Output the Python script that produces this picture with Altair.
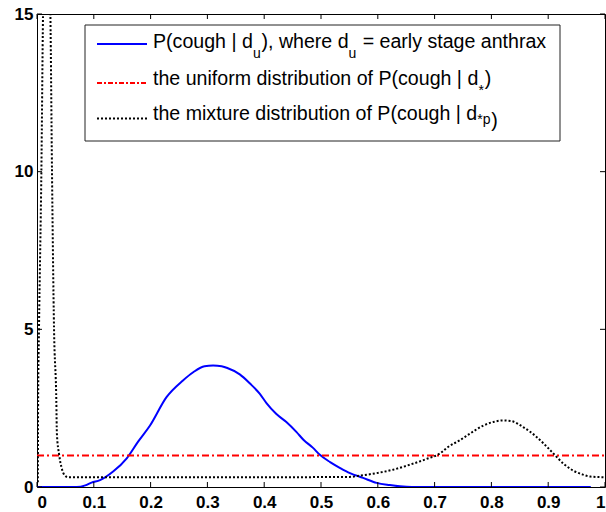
import altair as alt
import pandas as pd

# ---------------- data ----------------
blue_x = [0.0, 0.07, 0.085, 0.096, 0.111, 0.134, 0.158, 0.178, 0.199, 0.228, 0.257, 0.275,
          0.295, 0.31, 0.325, 0.334, 0.357, 0.375, 0.392, 0.404, 0.421, 0.439, 0.457, 0.469,
          0.486, 0.498, 0.516, 0.533, 0.551, 0.574, 0.598, 0.621, 0.639, 0.66, 0.975]
blue_y = [0.0, 0.0, 0.05, 0.14, 0.22, 0.49, 0.91, 1.44, 1.95, 2.85, 3.38, 3.64,
          3.83, 3.85, 3.83, 3.78, 3.57, 3.28, 2.96, 2.66, 2.32, 2.06, 1.74, 1.50,
          1.24, 1.02, 0.79, 0.61, 0.44, 0.29, 0.13, 0.06, 0.02, 0.0, 0.0]

uni_x = [0.0, 1.0]
uni_y = [1.0, 1.0]

mix_x = [0.0015, 0.002, 0.0035, 0.0077, 0.0106, 0.014, 0.017, 0.020, 0.0236, 0.0264, 0.030,
         0.034, 0.035, 0.039, 0.043, 0.049, 0.055, 0.065, 0.2, 0.4, 0.55, 0.568, 0.598,
         0.627, 0.657, 0.686, 0.71, 0.723, 0.744, 0.762, 0.786, 0.805, 0.82, 0.835, 0.856,
         0.88, 0.904, 0.927, 0.944, 0.96, 0.974, 1.0]
mix_y = [0.15, 2.75, 5.0, 10.0, 15.0, 18.0, 19.0, 18.0, 15.0, 10.0, 5.0,
         2.75, 1.7, 1.02, 0.63, 0.37, 0.31, 0.31, 0.31, 0.31, 0.32, 0.36, 0.44,
         0.55, 0.71, 0.89, 1.07, 1.26, 1.48, 1.69, 1.95, 2.07, 2.11, 2.09, 1.90,
         1.58, 1.16, 0.74, 0.52, 0.40, 0.33, 0.31]

x_ticks = [0, 0.1, 0.2, 0.3, 0.4, 0.5, 0.6, 0.7, 0.8, 0.9, 1]
y_ticks = [0, 5, 10, 15]

legend_rows = [
    [("P(cough | d", "main"), ("u", "sub"), ("), where d", "main"), ("u", "sub"),
     (" = early stage anthrax", "main")],
    [("the uniform distribution of P(cough | d", "main"), ("*", "sub"), (")", "main")],
    [("the mixture distribution of P(cough | d", "main"), ("*p", "sub"), (")", "low")],
]

# ---------------- layout / style ----------------
W, H = 568, 473
FONT = "Liberation Sans"
MAIN, SUB = 19.6, 14

ARIAL = {' ': 278, '(': 333, ')': 333, '*': 389, ',': 278, '=': 584, '|': 260,
         'a': 556, 'b': 556, 'c': 500, 'd': 556, 'e': 556, 'f': 278, 'g': 556,
         'h': 556, 'i': 222, 'l': 222, 'm': 833, 'n': 556, 'o': 556, 'p': 556,
         'r': 333, 's': 500, 't': 278, 'u': 556, 'w': 722, 'x': 500, 'y': 500, 'P': 667}


def tw(s, size):
    return sum(ARIAL.get(c, 556) for c in s) * size / 1000.0


xs = alt.Scale(domain=[0, 1], nice=False, zero=False)
ys = alt.Scale(domain=[0, 15], nice=False, zero=False)

df_blue = pd.DataFrame({"x": blue_x, "y": blue_y})
df_uni = pd.DataFrame({"x": uni_x, "y": uni_y})
df_mix = pd.DataFrame({"x": mix_x, "y": mix_y})

xenc = alt.X("x:Q", scale=xs, axis=alt.Axis(values=x_ticks, format="~g", title=None,
             ticks=False, domain=False, grid=False, labelPadding=7))
yenc = alt.Y("y:Q", scale=ys, axis=alt.Axis(values=y_ticks, title=None, ticks=False,
             domain=False, grid=False, labelPadding=4))

blue = alt.Chart(df_blue).mark_line(color="#0000ff", strokeWidth=2, clip=True,
                                    interpolate="monotone").encode(x=xenc, y=yenc)
uni = alt.Chart(df_uni).mark_line(color="#ff0000", strokeWidth=2, strokeDash=[7, 3, 2, 3],
                                  clip=True).encode(x="x:Q", y="y:Q")
mix = alt.Chart(df_mix).mark_line(color="#000000", strokeWidth=2, strokeDash=[2, 2],
                                  clip=True, interpolate="monotone").encode(x="x:Q", y="y:Q")

# inward ticks (MATLAB style)
dfx = pd.DataFrame({"x": x_ticks})
dfy = pd.DataFrame({"y": y_ticks})
tk = dict(color="black", strokeWidth=1)
tb = alt.Chart(dfx).mark_rule(**tk).encode(x="x:Q", y=alt.value(H), y2=alt.value(H - 5))
tt = alt.Chart(dfx).mark_rule(**tk).encode(x="x:Q", y=alt.value(0), y2=alt.value(5))
tl = alt.Chart(dfy).mark_rule(**tk).encode(y="y:Q", x=alt.value(0), x2=alt.value(5))
tr = alt.Chart(dfy).mark_rule(**tk).encode(y="y:Q", x=alt.value(W), x2=alt.value(W - 5))

# ---------------- legend (drawn by hand for the subscripts) ----------------
one = pd.DataFrame({"a": [0]})
layers = [blue, uni, mix, tb, tt, tl, tr]
layers.append(alt.Chart(one).mark_rect(fill="white", stroke="#222222", strokeWidth=1).encode(
    x=alt.value(48), x2=alt.value(523), y=alt.value(11), y2=alt.value(127)))

sample_y = [30, 69, 104.5]
sample_style = [dict(color="#0000ff", strokeWidth=2),
                dict(color="#ff0000", strokeWidth=2, strokeDash=[5, 2, 2, 2]),
                dict(color="#000000", strokeWidth=2, strokeDash=[2, 2])]
for yv, st in zip(sample_y, sample_style):
    layers.append(alt.Chart(one).mark_rule(**st).encode(
        x=alt.value(60), x2=alt.value(110), y=alt.value(yv)))

baselines = [34.3, 71.0, 106.0]
sub_drop = [10, 10, 4]
for row, base, drop in zip(legend_rows, baselines, sub_drop):
    xcur = 116.0
    for txt, kind in row:
        size = SUB if kind == "sub" else MAIN
        if kind == "main":
            yv = base
        elif kind == "sub":
            yv = base + drop
        else:
            yv = base + 7
        lead = len(txt) - len(txt.lstrip(" "))
        shown = txt.lstrip(" ")
        xstart = xcur + tw(" " * lead, size)
        layers.append(alt.Chart(one).mark_text(
            text=shown, align="left", baseline="alphabetic", font=FONT, fontSize=size,
            color="#000000").encode(x=alt.value(xstart), y=alt.value(yv)))
        xcur = xstart + tw(shown, size) + (0.8 if kind == "sub" else 0)

chart = alt.layer(*layers).properties(
    width=W, height=H,
    autosize=alt.AutoSizeParams(type="none"),
    padding={"left": 37, "top": 14, "right": 1, "bottom": 25},
).configure_view(stroke="#000000", strokeWidth=1).configure_axis(
    labelFont=FONT, labelFontSize=17, labelFontWeight="bold", labelColor="#000000"
)

chart.save("out.html", embed_options={"renderer": "svg", "actions": False})
